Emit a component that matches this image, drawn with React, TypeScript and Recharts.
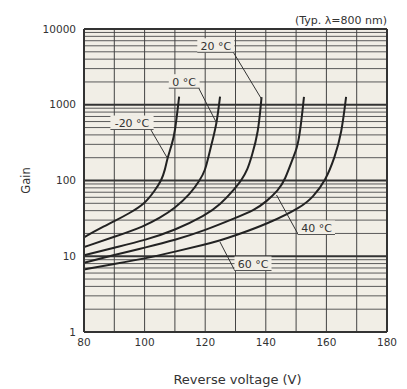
import React from 'react';
import {
  LineChart,
  Line,
  XAxis,
  YAxis,
  CartesianGrid,
  ReferenceLine,
  ReferenceDot,
  Label,
} from 'recharts';

const FONT = '"DejaVu Sans", Verdana, sans-serif';
const BG = '#f1eee6';
const INK = '#333333';

// Axes
const xTicks = [80, 100, 120, 140, 160, 180];
const yTicks = [1, 10, 100, 1000, 10000];
const xGridValues = [90, 100, 110, 120, 130, 140, 150, 160, 170];
const yMajorGridValues = [10, 100, 1000];
const yMinorGridValues = [
  2, 3, 4, 5, 6, 7, 8, 9,
  20, 30, 40, 50, 60, 70, 80, 90,
  200, 300, 400, 500, 600, 700, 800, 900,
  2000, 3000, 4000, 5000, 6000, 7000, 8000, 9000,
];

// Series: reverse voltage (V) and gain
const voltM20 = [80, 85, 90, 95, 100, 103.4, 105.6, 106.7, 107.5, 109, 110, 111.4];
const gainM20 = [17.8, 23, 29, 37, 49, 74, 101, 137, 195, 300, 420, 1280];

const volt0 = [80, 90, 100, 105, 110, 115, 118.3, 120, 121, 122.5, 123.8, 124.9];
const gain0 = [13.2, 18, 25, 32, 43, 66, 101, 137, 200, 350, 568, 1280];

const volt20 = [80, 90, 100, 110, 120, 125, 129.8, 132, 134, 135.3, 137.5, 138.6];
const gain20 = [10.3, 13, 16.2, 22, 34.5, 48, 78, 101, 140, 205, 419, 1260];

const volt40 = [80, 90, 100, 110, 120, 130, 136.4, 140, 144.1, 146.3, 149.1, 150.2, 151.3, 152.6];
const gain40 = [8.2, 10.4, 13, 16.3, 22, 32, 41, 52, 74, 101, 205, 260, 419, 1270];

const volt60 = [80, 90, 100, 110, 120, 125, 130, 140.8, 151.8, 155.5, 159.8, 162.8, 165, 166.5];
const gain60 = [6.7, 7.9, 9.3, 11.5, 14.3, 16.2, 18.8, 27, 44.8, 60, 101, 205, 419, 1270];

const seriesNames = ['-20 °C', '0 °C', '20 °C', '40 °C', '60 °C'];
const seriesVolts = [voltM20, volt0, volt20, volt40, volt60];
const seriesGains = [gainM20, gain0, gain20, gain40, gain60];

// Annotation labels (data coordinates)
const labelText = ['-20 °C', '0 °C', '20 °C', '40 °C', '60 °C'];
const labelV = [95.84, 113.07, 123.5, 156.73, 135.78];
const labelG = [574, 2015, 6000, 23.6, 7.9];
const anchorV = [102.1, 117.72, 129.17, 150.79, 129.83];
const anchorG = [464, 1700, 5013, 19.08, 6.39];
const targetV = [107.4, 123.8, 138.58, 143.53, 124.88];
const targetG = [201, 569, 1191, 64.4, 15.42];

const titleText = '(Typ. λ=800 nm)';
const xTitle = 'Reverse voltage (V)';
const yTitle = 'Gain';

const makeLabelShape = (text: string) => (props: any) => {
  const { cx, cy } = props;
  if (cx == null || cy == null) return <g />;
  const w = text.length * 6.2;
  const left = cx - w / 2 - 3;
  const right = cx + w / 2 + 3;
  return (
    <g>
      <rect x={left} y={cy - 7.5} width={right - left} height={14} fill={BG} />
      <text x={cx} y={cy + 4} textAnchor="middle" fontSize={11} fontFamily={FONT} fill={INK}>
        {text}
      </text>
      <line x1={left} x2={right} y1={cy + 6.5} y2={cy + 6.5} stroke="#555" strokeWidth={1} />
    </g>
  );
};

const titleShape = (props: any) => {
  const { cx, cy } = props;
  if (cx == null || cy == null) return <g />;
  return (
    <text x={cx} y={cy - 5} textAnchor="end" fontSize={11} fontFamily={FONT} fill={INK}>
      {titleText}
    </text>
  );
};

export default function App() {
  return (
    <div style={{ width: 407, height: 389, background: '#fff' }}>
      <style>{`body{margin:0;}`}</style>
      <LineChart
        width={407}
        height={389}
        margin={{ top: 29, right: 20, bottom: 0, left: 24 }}
      >
        <CartesianGrid fill={BG} fillOpacity={1} horizontal={false} vertical={false} stroke="none" />
        <XAxis
          dataKey="v"
          type="number"
          domain={[80, 180]}
          ticks={xTicks}
          allowDataOverflow
          height={57}
          tickSize={5}
          tickMargin={2}
          tickLine={false}
          axisLine={{ stroke: INK, strokeWidth: 2 }}
          tick={{ fontSize: 10.5, fontFamily: FONT, fill: INK }}
        >
          <Label
            content={(p: any) => {
              const vb = p.viewBox || {};
              return (
                <text
                  x={vb.x + vb.width / 2 + 2}
                  y={vb.y + 52}
                  textAnchor="middle"
                  fontSize={13}
                  fontFamily={FONT}
                  fill={INK}
                >
                  {xTitle}
                </text>
              );
            }}
          />
        </XAxis>
        <YAxis
          dataKey="g"
          type="number"
          scale="log"
          domain={[1, 10000]}
          ticks={yTicks}
          allowDataOverflow
          width={60}
          tickSize={6}
          tickMargin={2}
          tickLine={false}
          axisLine={{ stroke: INK, strokeWidth: 2 }}
          tick={{ fontSize: 10.5, fontFamily: FONT, fill: INK }}
        >
          <Label
            content={(p: any) => {
              const vb = p.viewBox || {};
              const x = vb.x + 5.5;
              const y = vb.y + vb.height / 2;
              return (
                <text
                  x={x}
                  y={y}
                  transform={`rotate(-90, ${x}, ${y})`}
                  textAnchor="middle"
                  fontSize={11.5}
                  fontFamily={FONT}
                  fill={INK}
                >
                  {yTitle}
                </text>
              );
            }}
          />
        </YAxis>

        {yMinorGridValues.map((g) => (
          <ReferenceLine key={`ym${g}`} y={g} stroke="#5a5a5a" strokeWidth={1} zIndex={-50} />
        ))}
        {xGridValues.map((v) => (
          <ReferenceLine key={`x${v}`} x={v} stroke="#444" strokeWidth={1} zIndex={-50} />
        ))}
        {yMajorGridValues.map((g) => (
          <ReferenceLine key={`yM${g}`} y={g} stroke="#333" strokeWidth={1.8} zIndex={-50} />
        ))}

        {seriesNames.map((name, i) => (
          <Line
            key={name}
            name={name}
            data={seriesVolts[i].map((v, j) => ({ v, g: seriesGains[i][j] }))}
            dataKey="g"
            type="basis"
            stroke="#222"
            strokeWidth={2}
            dot={false}
            activeDot={false}
            isAnimationActive={false}
          />
        ))}

        {labelText.map((t, i) => (
          <ReferenceLine
            key={`p${i}`}
            segment={[
              { x: anchorV[i], y: anchorG[i] },
              { x: targetV[i], y: targetG[i] },
            ]}
            stroke="#333"
            strokeWidth={1}
            zIndex={450}
          />
        ))}
        {labelText.map((t, i) => (
          <ReferenceDot
            key={`l${i}`}
            x={labelV[i]}
            y={labelG[i]}
            r={0}
            ifOverflow="visible"
            shape={makeLabelShape(t)}
            zIndex={460}
          />
        ))}

        <ReferenceLine y={10000} stroke={INK} strokeWidth={2} zIndex={500} />
        <ReferenceLine x={180} stroke={INK} strokeWidth={2} zIndex={500} />
        <ReferenceDot x={180} y={10000} r={0} ifOverflow="visible" shape={titleShape} zIndex={500} />
      </LineChart>
    </div>
  );
}
